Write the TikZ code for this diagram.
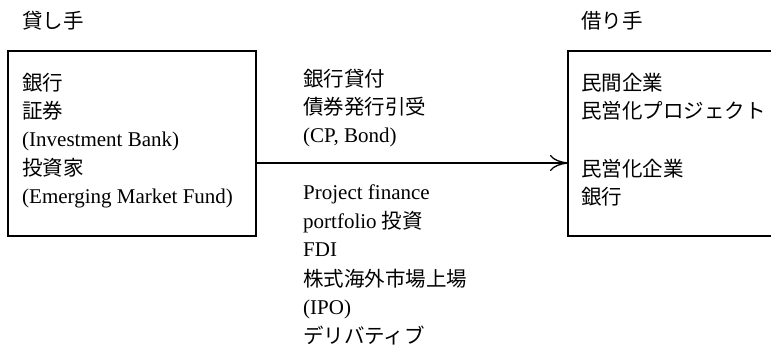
\documentclass[tikz,border=0pt]{standalone}
\usepackage{fontspec}
\setmainfont{Liberation Serif}
\newfontfamily\jp{Noto Sans CJK JP}
\newcommand{\J}[1]{{\jp\fontsize{20.5}{22}\selectfont #1}}
\usetikzlibrary{arrows.meta}
\begin{document}
\begin{tikzpicture}[x=1pt,y=-1pt,
  txt/.style={anchor=base west,inner sep=0pt,font=\fontsize{21}{24}\selectfont},
  box/.style={draw,line width=1.3pt},
  conn/.style={line width=1.3pt,-{To[length=18pt,width=16pt,line width=1.3pt]}}]
\useasboundingbox (0,0) rectangle (771,351);
\clip (0,0) rectangle (771,351);
% titles
\node[txt] (lt) at (22,28) {\J{貸し手}};
\node[txt] (rt) at (581,28) {\J{借り手}};
% boxes
\draw[box] (8,51) rectangle (256,236);
\draw[box] (568,51) rectangle (790,236);
\coordinate (Lout) at (256,163);
\coordinate (Rin) at (568,163);
% left box text
\node[txt] (l1) at (22,90) {\J{銀行}};
\node[txt] (l2) at (22,118.5) {\J{証券}};
\node[txt] (l3) at (22,146) {(Investment Bank)};
\node[txt] (l4) at (22,175.5) {\J{投資家}};
\node[txt] (l5) at (22,203) {(Emerging Market Fund)};
% arrow
\draw[conn] (Lout) -- (Rin);
% middle text
\node[txt] (m1) at (303,86) {\J{銀行貸付}};
\node[txt] (m2) at (303,114.5) {\J{債券発行引受}};
\node[txt] (m3) at (303,142) {(CP, Bond)};
\node[txt] (m4) at (303,199.5) {Project finance};
\node[txt] (m5) at (303,228) {portfolio \J{投資}};
\node[txt] (m6) at (303,256.5) {FDI};
\node[txt] (m7) at (303,286.5) {\J{株式海外市場上場}};
\node[txt] (m8) at (303,314) {(IPO)};
\node[txt] (m9) at (303,343.5) {\J{デリバティブ}};
% right box text
\node[txt] (r1) at (581,90) {\J{民間企業}};
\node[txt] (r2) at (581,118) {\J{民営化プロジェクト}};
\node[txt] (r3) at (581,176) {\J{民営化企業}};
\node[txt] (r4) at (581,204) {\J{銀行}};
\end{tikzpicture}
\end{document}
